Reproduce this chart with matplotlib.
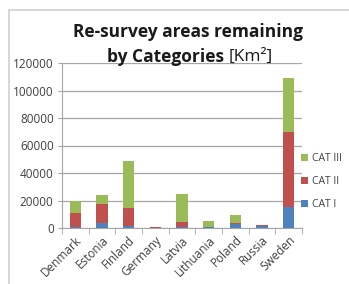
import matplotlib
matplotlib.use("Agg")
import matplotlib.pyplot as plt
from matplotlib.patches import Rectangle
import numpy as np

countries = ["Denmark", "Estonia", "Finland", "Germany", "Latvia",
             "Lithuania", "Poland", "Russia", "Sweden"]
cat1 = [1000, 3400, 1700, 200, 500, 700, 2700, 1400, 15500]
cat2 = [10100, 14000, 13100, 800, 3900, 300, 700, 800, 54500]
cat3 = [8500, 6600, 34100, 0, 20400, 3800, 5800, 0, 39300]
yticks = [0, 20000, 40000, 60000, 80000, 100000, 120000]

c_blue = "#4F81BD"
c_red = "#C0504D"
c_green = "#9BBB59"
txt = "#404040"
grid_c = "#A6A6A6"

plt.rcParams['font.family'] = ['Open Sans', 'DejaVu Sans']

fig = plt.figure(figsize=(3.49, 2.84), dpi=100)
W, H = 349, 284
# chart frame border
fig.patches.append(Rectangle((9 / W, -0.1), 1.2, (H - 10) / H + 0.1,
                             transform=fig.transFigure, fill=False,
                             edgecolor="#D0D0D0", linewidth=1.2))

ax = fig.add_axes([62 / W, (H - 228) / H, 240 / W, 165 / H])
x = np.arange(len(countries))
b1 = np.array(cat1)
b2 = np.array(cat2)
b3 = np.array(cat3)
w = 0.42
ax.bar(x, b1, w, color=c_blue, label="CAT I", zorder=3)
ax.bar(x, b2, w, bottom=b1, color=c_red, label="CAT II", zorder=3)
ax.bar(x, b3, w, bottom=b1 + b2, color=c_green, label="CAT III", zorder=3)

ax.set_xlim(-0.5, len(countries) - 0.5)
ax.set_ylim(0, 120000)
ax.set_yticks(yticks)
ax.set_yticklabels([str(v) for v in yticks], fontsize=8.5, color=txt)
ax.yaxis.grid(True, color=grid_c, linewidth=0.9, zorder=0)
ax.tick_params(axis='y', length=3, color=grid_c, pad=3)

ax.set_xticks(x)
ax.set_xticklabels(countries, rotation=45, ha='right', rotation_mode='anchor',
                   fontsize=8.5, color=txt)
ax.set_xticks(np.arange(-0.5, len(countries) + 0.5, 1), minor=True)
ax.tick_params(axis='x', which='major', length=0, pad=4)
ax.tick_params(axis='x', which='minor', length=4, color=grid_c)

for s in ["top", "right"]:
    ax.spines[s].set_visible(False)
ax.spines["left"].set_color(grid_c)
ax.spines["bottom"].set_color(grid_c)

handles, labels = ax.get_legend_handles_labels()
leg = fig.legend(handles[::-1], labels[::-1], loc="upper left",
                 bbox_to_anchor=(301 / W, 1 - 153 / H), frameon=False,
                 fontsize=7.5,
                 handlelength=0.7, handleheight=0.7,
                 handletextpad=0.35, labelspacing=1.15, borderaxespad=0,
                 borderpad=0, labelcolor=txt)

fig.text(188 / W, 1 - 32 / H, "Re-survey areas remaining", ha="center",
         va="center", fontsize=12.5, fontweight="bold", color="#1a1a1a")
t1 = fig.text(107 / W, 1 - 57 / H, "by Categories ", ha="left", va="center",
              fontsize=12.5, fontweight="bold", color="#1a1a1a")
fig.canvas.draw()
bb = t1.get_window_extent()
fig.text(bb.x1 / W, 1 - 57 / H, "[Km²]", ha="left", va="center",
         fontsize=12.5, color="#1a1a1a")

fig.savefig("out.png", dpi=100)
